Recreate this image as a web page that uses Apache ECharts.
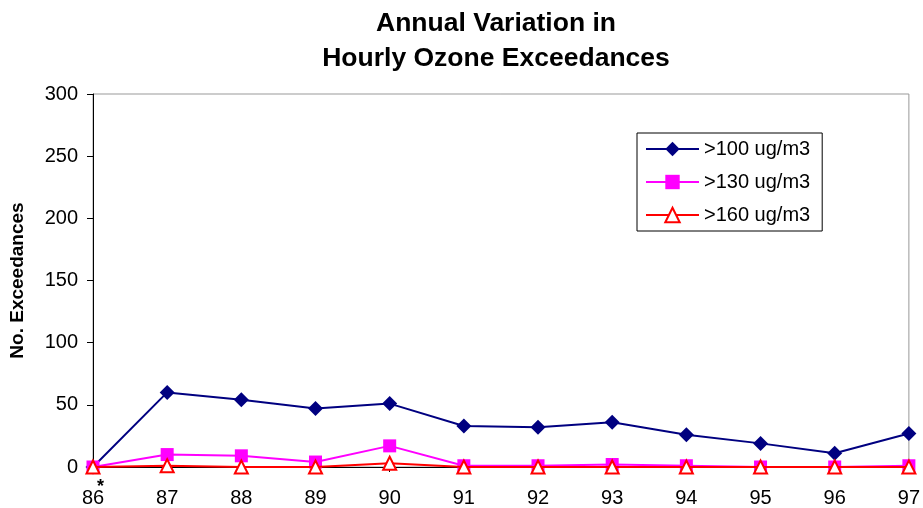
<!DOCTYPE html>
<html>
<head>
<meta charset="utf-8">
<script src="https://cdn.jsdelivr.net/npm/echarts@6/dist/echarts.min.js"></script>
<style>
  html, body { margin: 0; padding: 0; background: #fff; }
  #chart { width: 923px; height: 508px; }
</style>
</head>
<body>
<div id="chart"></div>
<script>
// data
var years = ["86", "87", "88", "89", "90", "91", "92", "93", "94", "95", "96", "97"];
var over100 = [0, 60, 54, 47, 51, 33, 32, 36, 26, 19, 11, 27];
var over130 = [0, 10, 9, 4, 17, 1, 1, 2, 1, 0, 0, 1];
var over160 = [0, 1, 0, 0, 3, 0, 0, 0, 0, 0, 0, 0];

var font = "Liberation Sans, Arial, sans-serif";
var chart = echarts.init(document.getElementById("chart"));

var option = {
  animation: false,
  title: {
    text: "Annual Variation in\nHourly Ozone Exceedances",
    left: 491,
    textAlign: "center",
    top: 1,
    textStyle: { fontFamily: font, fontSize: 26.5, fontWeight: "bold", color: "#000", lineHeight: 35 }
  },
  legend: {
    orient: "vertical",
    left: 637,
    top: 133,
    width: 185,
    padding: [6, 12, 6, 8],
    itemGap: 13,
    itemWidth: 53,
    itemHeight: 18,
    borderColor: "#000",
    borderWidth: 1,
    textStyle: { fontFamily: font, fontSize: 20, color: "#000" },
    data: [">100 ug/m3", ">130 ug/m3", ">160 ug/m3"]
  },
  grid: { left: 93, right: 13, top: 94, bottom: 41, show: true, borderColor: "#999", borderWidth: 1 },
  xAxis: {
    type: "category",
    data: years,
    boundaryGap: false,
    axisLine: { lineStyle: { color: "#000", width: 1 } },
    axisTick: { show: true, length: 5, alignWithLabel: true, lineStyle: { color: "#000" } },
    axisLabel: { fontFamily: font, fontSize: 20, color: "#000", margin: 21 },
    splitLine: { show: false }
  },
  yAxis: {
    type: "value",
    min: 0,
    max: 300,
    interval: 50,
    name: "No. Exceedances",
    nameLocation: "middle",
    nameGap: 66,
    nameTextStyle: { fontFamily: font, fontSize: 19, fontWeight: "bold", color: "#000" },
    axisLine: { show: true, lineStyle: { color: "#000", width: 1 } },
    axisTick: { show: true, length: 6, lineStyle: { color: "#000" } },
    axisLabel: { fontFamily: font, fontSize: 20, color: "#000", margin: 15 },
    splitLine: { show: false }
  },
  graphic: [
    { type: "text", left: 97, top: 478, style: { text: "*", font: "bold 18px " + font, fill: "#000" } }
  ],
  series: [
    {
      name: ">100 ug/m3",
      type: "line",
      data: over100,
      symbol: "diamond",
      symbolSize: 15,
      lineStyle: { color: "#000080", width: 2 },
      itemStyle: { color: "#000080" },
      z: 3
    },
    {
      name: ">130 ug/m3",
      type: "line",
      data: over130,
      symbol: "rect",
      symbolSize: 13,
      lineStyle: { color: "#ff00ff", width: 2 },
      itemStyle: { color: "#ff00ff" },
      z: 4
    },
    {
      name: ">160 ug/m3",
      type: "line",
      data: over160,
      symbol: "triangle",
      symbolSize: 13,
      showAllSymbol: true,
      lineStyle: { color: "#ff0000", width: 2 },
      itemStyle: { color: "#fff", borderColor: "#ff0000", borderWidth: 2 },
      z: 5
    }
  ]
};

chart.setOption(option);
</script>
</body>
</html>
